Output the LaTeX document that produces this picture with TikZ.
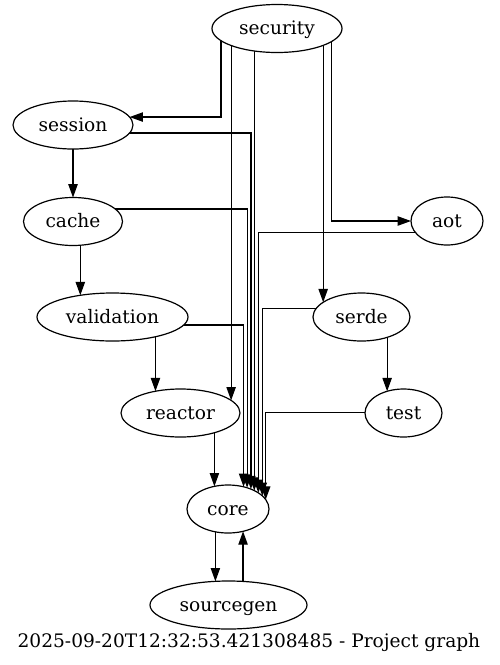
\documentclass[tikz,border=0pt]{standalone}
\usepackage{fontspec}
\setmainfont{DejaVu Serif}
\usetikzlibrary{shapes.geometric,arrows.meta,backgrounds}

\begin{document}
\begin{tikzpicture}[x=1pt,y=-1pt,
  gnode/.style={ellipse, draw, fill=white, inner sep=0pt, outer sep=0pt,
    minimum height=48pt, line width=1.2pt, text height=16pt, text depth=4pt,
    font=\fontsize{18.6}{22}\selectfont},
  dep/.style={line width=1.2pt, -{Triangle[length=13.3pt,width=9.3pt]}},
  caption/.style={font=\fontsize{18.6}{22}\selectfont, anchor=base}]
\useasboundingbox (0,0) rectangle (499,665);

% modules
\node[gnode, minimum width=130pt] (security)   at (277,28.5) {security};
\node[gnode, minimum width=120pt] (session)    at (73,125)   {session};
\node[gnode, minimum width=99pt]  (cache)      at (73,221.5) {cache};
\node[gnode, minimum width=72pt]  (aot)        at (447,221)  {aot};
\node[gnode, minimum width=151pt] (validation) at (112.5,317) {validation};
\node[gnode, minimum width=97pt]  (serde)      at (361.5,317) {serde};
\node[gnode, minimum width=119pt] (reactor)    at (180.5,413) {reactor};
\node[gnode, minimum width=77pt]  (test)       at (403.5,413) {test};
\node[gnode, minimum width=82pt]  (core)       at (228,509)  {core};
\node[gnode, minimum width=157pt] (sourcegen)  at (228.5,605) {sourcegen};

\node[caption] (title) at (249,647.3) {2025-09-20T12:32:53.421308485 - Project graph};

% dependencies, drawn under the nodes
\begin{pgfonlayer}{background}
  % from security
  \draw[dep] (security.center -| 221,0) |- (session.8.05);
  \draw[dep] (security.center -| reactor.14.4) -- (reactor.14.4);
  \draw[dep] (security.center -| core.35) -- (core.35);
  \draw[dep] (security.center -| serde.159.9) -- (serde.159.9);
  \draw[dep] (security.center -| 331.7,0) |- (aot.west);
  % left column
  \draw[dep] (session.center) -- (cache.north);
  \draw[dep] (session.center |- 0,133) -| (core.41.8);
  \draw[dep] (cache.center -| validation.146.3) -- (validation.146.3);
  \draw[dep] (cache.center |- 0,209) -| (core.48.9);
  \draw[dep] (validation.center -| reactor.139.6) -- (reactor.139.6);
  \draw[dep] (validation.center |- 0,325) -| (core.55.5);
  \draw[dep] (reactor.center -| core.121.8) -- (core.121.8);
  % right column
  \draw[dep] (aot.center |- 0,232.7) -| (core.28.2);
  \draw[dep] (serde.center -| test.127.3) -- (test.127.3);
  \draw[dep] (serde.center |- 0,308.3) -| (core.21.7);
  \draw[dep] (test.center |- 0,412.7) -| (core.14);
  % core <-> sourcegen
  \draw[dep] (core.center -| sourcegen.119.8) -- (sourcegen.119.8);
  \draw[dep] (sourcegen.center -| core.-56.7) -- (core.-56.7);
\end{pgfonlayer}
\end{tikzpicture}
\end{document}
